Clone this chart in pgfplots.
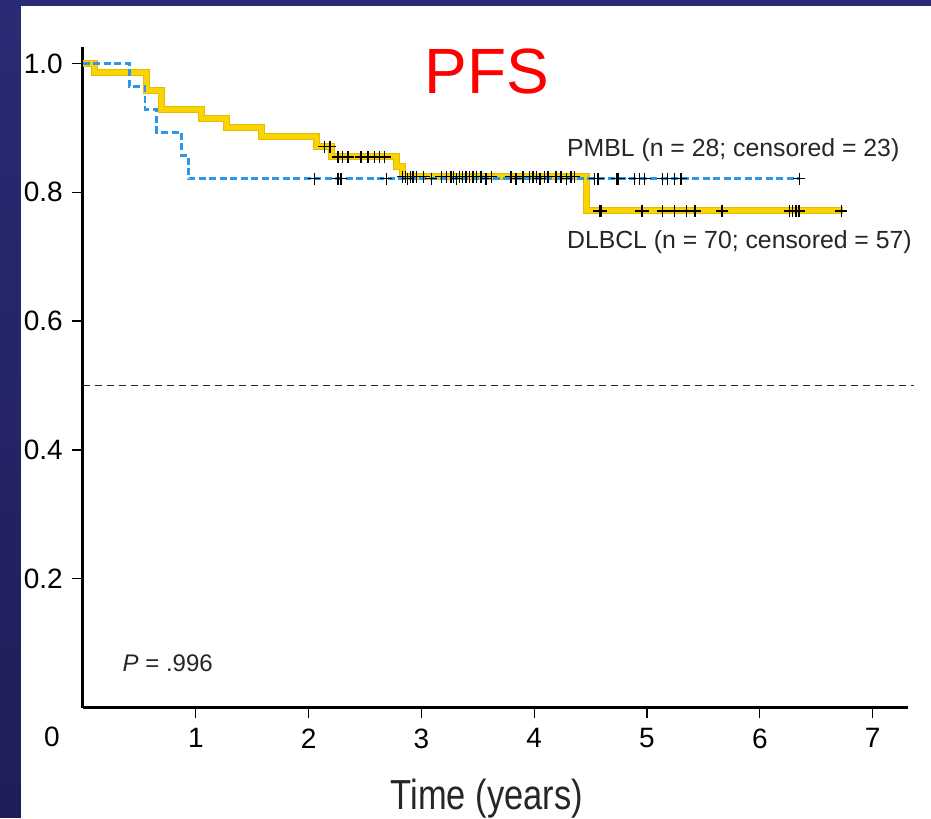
\documentclass[border=0pt]{standalone}
\usepackage{fontspec}
\setmainfont{Liberation Sans}
\usepackage{graphicx}
\usepackage{pgfplots}
\pgfplotsset{compat=1.18}
\definecolor{bgtop}{RGB}{42,42,118}
\definecolor{bgmid}{RGB}{52,52,150}
\definecolor{bgbot}{RGB}{30,30,88}
\definecolor{dlbclY}{RGB}{248,212,0}
\definecolor{dlbclE}{RGB}{232,185,0}
\definecolor{pmblB}{RGB}{45,150,230}
\begin{document}
\begin{tikzpicture}
\fill[white] (-83pt,-109.5pt) rectangle (848pt,707.5pt);
\shade[top color=bgtop, middle color=bgmid, bottom color=bgbot] (-83pt,-109.5pt) rectangle (-62pt,707.5pt);
\fill[bgtop] (-83pt,701.5pt) rectangle (848pt,707.5pt);
\begin{axis}[
  at={(0pt,0pt)}, anchor=south west,
  scale only axis, width=825pt, height=660.8pt,
  xmin=0, xmax=7.314, ymin=0, ymax=1.026,
  axis x line=bottom, axis y line=left,
  axis line style={line width=3pt, -},
  clip=false,
  xtick={1,2,3,4,5,6,7},
  ytick={0.2,0.4,0.6,0.8,1.0},
  yticklabels={0.2,0.4,0.6,0.8,1.0},
  tick align=outside, major tick length=11pt,
  tick style={line width=1.3pt, black},
  /pgf/number format/assume math mode=true,
  xticklabel style={font=\fontsize{28}{30}\selectfont, inner sep=0pt, anchor=north, yshift=-10pt},
  yticklabel style={font=\fontsize{28}{30}\selectfont, inner sep=0pt, anchor=east, xshift=-9pt},
]
% reference line at 0.5
\addplot[black!85, line width=1.2pt, dash pattern=on 7pt off 5pt] coordinates {(0,0.5) (7.37,0.5)};
% DLBCL
\addplot[const plot, dlbclE, line width=7pt] coordinates {
(0,1) (0.102,0.986) (0.566,0.958) (0.693,0.928) (1.048,0.914) (1.270,0.900) (1.580,0.886) (2.067,0.871) (2.206,0.855) (2.78,0.840) (2.83,0.824) (4.468,0.771) (6.74,0.771)};
\addplot[const plot, dlbclY, line width=5pt] coordinates {
(0,1) (0.102,0.986) (0.566,0.958) (0.693,0.928) (1.048,0.914) (1.270,0.900) (1.580,0.886) (2.067,0.871) (2.206,0.855) (2.78,0.840) (2.83,0.824) (4.468,0.771) (6.74,0.771)};
% PMBL
\addplot[const plot, pmblB, line width=2.8pt, dash pattern=on 7pt off 3.5pt] coordinates {
(0,1) (0.412,0.964) (0.55,0.929) (0.653,0.893) (0.875,0.857) (0.934,0.821) (6.352,0.821)};
% DLBCL censored
\addplot[only marks, mark=+, mark size=6pt, black, mark options={line width=1.4pt}] coordinates {
(2.14,0.871) (2.19,0.871)
(2.259,0.855) (2.303,0.855) (2.348,0.855) (2.466,0.855) (2.525,0.855) (2.584,0.855) (2.629,0.855) (2.673,0.855)
(2.835,0.824) (2.859,0.824) (2.901,0.824) (2.924,0.824) (2.954,0.824) (3.019,0.824) (3.176,0.824) (3.220,0.824) (3.264,0.824) (3.285,0.824) (3.338,0.824) (3.367,0.824) (3.397,0.824) (3.426,0.824) (3.456,0.824) (3.486,0.824) (3.530,0.824) (3.619,0.824) (3.796,0.824) (3.899,0.824) (3.958,0.824) (3.988,0.824) (4.023,0.824) (4.091,0.824) (4.121,0.824) (4.195,0.824) (4.239,0.824) (4.328,0.824) (4.357,0.824)
(4.578,0.771) (4.593,0.771) (4.949,0.771) (4.961,0.771) (5.140,0.771) (5.243,0.771) (5.348,0.771) (5.427,0.771) (5.665,0.771) (6.264,0.771) (6.290,0.771) (6.320,0.771) (6.346,0.771) (6.722,0.771)};
% PMBL censored
\addplot[only marks, mark=+, mark size=6pt, black, mark options={line width=1.4pt}] coordinates {
(2.052,0.821) (2.259,0.821) (2.289,0.821) (2.688,0.821)
(2.879,0.821) (3.087,0.821) (3.309,0.821) (3.574,0.821) (3.840,0.821) (4.053,0.821) (4.284,0.821)
(4.535,0.821) (4.564,0.821) (4.735,0.821) (4.748,0.821) (4.889,0.821) (4.933,0.821) (4.978,0.821) (5.140,0.821) (5.184,0.821) (5.243,0.821) (5.303,0.821) (6.352,0.821)};
% texts
\node[anchor=base, red, font=\fontsize{64}{70}\selectfont, inner sep=0pt] at (axis cs:3.58,0.954) {PFS};
\node[anchor=base west, font=\fontsize{24.8}{28}\selectfont, inner sep=0pt, text=black!85] at (axis cs:4.29,0.855) {PMBL (n = 28; censored = 23)};
\node[anchor=base west, font=\fontsize{24.8}{28}\selectfont, inner sep=0pt, text=black!85] at (axis cs:4.29,0.713) {DLBCL (n = 70; censored = 57)};
\node[anchor=base west, font=\fontsize{24}{28}\selectfont, inner sep=0pt, text=black!85] at (axis cs:0.35,0.0556) {\textit{P} = .996};
\node[anchor=base, font=\fontsize{28}{30}\selectfont, inner sep=0pt] at (axis cs:-0.275,-0.0609) {0};
\node[anchor=base, font=\fontsize{42}{46}\selectfont, inner sep=0pt, text=black!85] at (axis cs:3.58,-0.159) {\scalebox{0.82}[1]{Time (years)}};
\end{axis}
\end{tikzpicture}
\end{document}
